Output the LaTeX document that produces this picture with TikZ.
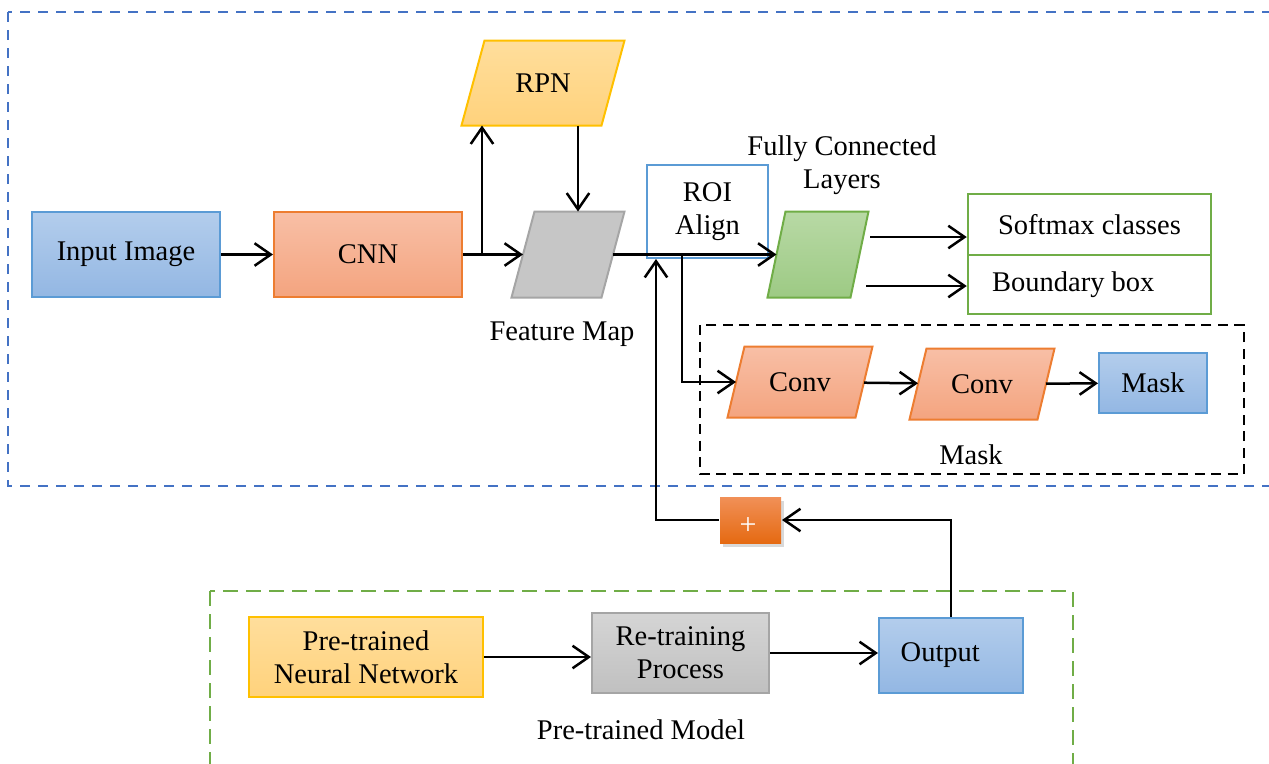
\documentclass[tikz,border=0pt]{standalone}
\usepackage{fontspec}
\setmainfont{Liberation Serif}
\usetikzlibrary{positioning,arrows.meta,shadows,backgrounds}

\definecolor{blueline}{HTML}{4472C4}
\definecolor{blueedge}{HTML}{5B9BD5}
\definecolor{bluetop}{HTML}{B3CDEC}
\definecolor{bluebot}{HTML}{93B7E3}
\definecolor{orangeedge}{HTML}{ED7D31}
\definecolor{orangetop}{HTML}{F8BFA6}
\definecolor{orangebot}{HTML}{F4A47F}
\definecolor{yellowedge}{HTML}{FFC000}
\definecolor{yellowtop}{HTML}{FFDE9C}
\definecolor{yellowbot}{HTML}{FFD27C}
\definecolor{grayedge}{HTML}{A5A5A5}
\definecolor{graytop}{HTML}{D5D5D5}
\definecolor{graybot}{HTML}{C0C0C0}
\definecolor{greenedge}{HTML}{70AD47}
\definecolor{greentop}{HTML}{B8D9A5}
\definecolor{greenbot}{HTML}{9DCA84}
\definecolor{plustop}{HTML}{F19057}
\definecolor{plusbot}{HTML}{E56A12}

% slanted outline behind a node: name, half slant (px), look
\newcommand\slantbox[3]{%
  \begin{pgfonlayer}{background}
    \path[#3, line width=0.8pt] ([xshift=#2*0.4pt]#1.north west) -- ([xshift=#2*0.4pt]#1.north east)
      -- ([xshift=-#2*0.4pt]#1.south east) -- ([xshift=-#2*0.4pt]#1.south west) -- cycle;
  \end{pgfonlayer}}

\tikzset{
  box/.style={draw, rectangle, inner sep=0, align=center, line width=0.8pt},
  para/.style={rectangle, inner sep=0, align=center},
  bluebox/.style={box, draw=blueedge, top color=bluetop, bottom color=bluebot},
  orangebox/.style={box, draw=orangeedge, top color=orangetop, bottom color=orangebot},
  orangepara/.style={draw=orangeedge, top color=orangetop, bottom color=orangebot},
  flow/.style={->, line width=1pt},
  >={Straight Barb[length=6.5pt,width=9pt]}
}

\begin{document}
\begin{tikzpicture}[x=0.4pt, y=-0.4pt, font=\fontsize{11.4}{13.2}\selectfont]

  \useasboundingbox (0,0) rectangle (1269,763);
  \clip (0,0) rectangle (1269,763);

  % outer frames
  \draw[blueline, line width=0.8pt, dash pattern=on 4pt off 3.2pt] (8,12) rectangle (1300,486);
  \draw[greenedge, line width=0.9pt, dash pattern=on 6pt off 3.2pt] (210,591) rectangle (1073,800);
  \draw[line width=1pt, dash pattern=on 4pt off 2.6pt] (700,325) rectangle (1244,474);

  % backbone
  \node[bluebox, minimum width=188*0.4pt, minimum height=85*0.4pt] (input) at (126,254.5) {Input Image};
  \node[orangebox, minimum width=188*0.4pt, minimum height=85*0.4pt] (cnn) at (368,254.5) {CNN};
  \node[para, minimum width=139*0.4pt, minimum height=84*0.4pt] (rpn) at (543,83) {RPN};
  \slantbox{rpn}{11.5}{draw=yellowedge, top color=yellowtop, bottom color=yellowbot}
  \node[para, minimum width=89*0.4pt, minimum height=85*0.4pt] (fmap) at (568,254.5) {};
  \slantbox{fmap}{11.5}{draw=grayedge, fill=graybot!90!white}
  \node[align=center] (fmaplabel) at (562,334) {Feature Map};

  % heads
  \node[box, draw=blueedge, fill=white, minimum width=121*0.4pt, minimum height=93*0.4pt] (roi) at (707.5,211.5) {ROI\\Align};
  \node[para, minimum width=82*0.4pt, minimum height=85*0.4pt] (fc) at (818,254.5) {};
  \slantbox{fc}{9}{draw=greenedge, top color=greentop, bottom color=greenbot}
  \node[align=center] (fclabel) at (842,165) {Fully Connected\\Layers};
  \node[box, draw=greenedge, line width=1pt, minimum width=243*0.4pt, minimum height=61*0.4pt] (softmax) at (1089.5,224.5) {Softmax classes};
  \node[box, draw=greenedge, line width=1pt, minimum width=243*0.4pt, minimum height=59*0.4pt] (bbox) at (1089.5,284.5) {Boundary box\hspace*{13pt}};

  % mask branch
  \node[para, minimum width=127*0.4pt, minimum height=70*0.4pt] (conv1) at (800,382) {Conv};
  \slantbox{conv1}{8.5}{orangepara}
  \node[para, minimum width=127*0.4pt, minimum height=70*0.4pt] (conv2) at (982,384) {Conv};
  \slantbox{conv2}{8.5}{orangepara}
  \node[bluebox, minimum width=108*0.4pt, minimum height=60*0.4pt] (mask) at (1153,383) {Mask};
  \node (masklabel) at (971,455) {Mask};

  % pre-trained model
  \node[box, draw=none, top color=plustop, bottom color=plusbot,
        minimum width=61*0.4pt, minimum height=46*0.4pt,
        drop shadow={shadow xshift=1pt, shadow yshift=-1.5pt, opacity=0.3}] (plus) at (750.5,520) {};
  \node[text=white, font=\fontsize{12}{12}\selectfont] (plussign) at (748,526) {+};
  \node[box, draw=yellowedge, top color=yellowtop, bottom color=yellowbot,
        minimum width=234*0.4pt, minimum height=80*0.4pt] (pretrained) at (366,657) {Pre-trained\\Neural Network};
  \node[box, draw=grayedge, top color=graytop, bottom color=graybot,
        minimum width=177*0.4pt, minimum height=80*0.4pt] (retrain) at (680.5,653) {Re-training\\Process};
  \node[bluebox, minimum width=144*0.4pt, minimum height=75*0.4pt] (output) at (951,655.5) {Output~~~};
  \node (modellabel) at (641,730) {Pre-trained Model};

  % connectors
  \coordinate (split) at (482,254.5);
  \coordinate (roibranch) at (682,256);
  \coordinate (back) at (656,520);
  \coordinate (fcout1) at (870,237);
  \coordinate (fcout2) at (866,286);

  \path[flow] (input) edge (cnn);
  \draw[flow] (cnn) -- (fmap);
  \draw[flow] (split) -- (split |- rpn.south);
  \draw[flow] (rpn.south -| 578,0) -- (578,0 |- fmap.north);
  \draw[flow] (fmap.east) -- (fc.west);
  \draw[flow] (roibranch) |- (conv1.west);
  \draw[flow] (conv1) -- (conv2);
  \draw[flow] (conv2) -- (mask);
  \draw[flow] (fcout1) -- (fcout1 -| softmax.west);
  \draw[flow] (fcout2) -- (fcout2 -| bbox.west);

  \draw[flow] (pretrained.east) -- (pretrained.east -| retrain.west);
  \draw[flow] (retrain.east) -- (retrain.east -| output.west);
  \draw[flow] (output.north) |- (plus.east);
  \draw[flow] (plus.west) -- (back) -- (back |- roi.south);

\end{tikzpicture}
\end{document}
